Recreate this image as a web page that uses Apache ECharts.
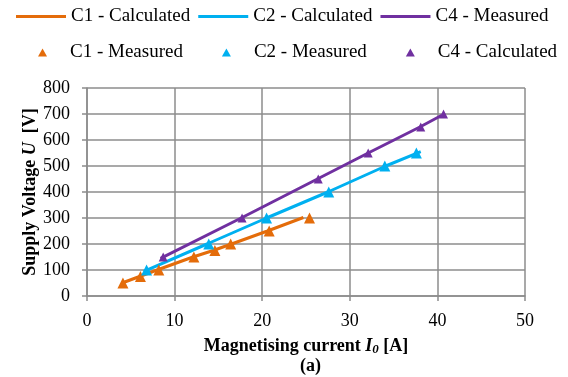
<!DOCTYPE html>
<html>
<head>
<meta charset="utf-8">
<script src="https://cdn.jsdelivr.net/npm/echarts@6/dist/echarts.min.js"></script>
<style>html,body{margin:0;padding:0;background:#fff}#c{width:568px;height:377px}</style>
</head>
<body>
<div id="c"></div>
<script>
// Data: [current I0 (A), voltage U (V)]
const c1Calculated = [[4.0,50],[6.0,75],[8.0,100],[12.1,150],[14.4,175],[16.5,200],[20.6,250],[24.7,302]];
const c2Calculated = [[6.5,95],[13.7,200],[20.5,300],[27.5,400],[34.1,500],[38.1,555]];
const c4Measured   = [[8.4,145],[17.6,300],[26.3,450],[32.1,550],[38.0,650],[40.5,695]];
const c1Measured   = [[4.1,50],[6.1,75],[8.2,100],[12.2,150],[14.6,175],[16.4,200],[20.8,250],[25.4,300]];
const c2Measured   = [[6.8,100],[13.9,200],[20.5,300],[27.6,400],[34.0,500],[37.6,550]];
const c4Calculated = [[8.7,150],[17.7,300],[26.4,450],[32.1,550],[38.1,650],[40.7,700]];
const xTicks = [0,10,20,30,40,50];
const yTicks = [0,100,200,300,400,500,600,700,800];

const FONT = "'Liberation Serif','Times New Roman',serif";
const ORANGE = '#E46C0A', CYAN = '#00B0F0', PURPLE = '#7030A0';
const GRID_C = '#8c8c8c';

const chart = echarts.init(document.getElementById('c'));
const lineSeries = (name, data, color) => ({
  name, type: 'line', data, symbol: 'none', smooth: false,
  lineStyle: { color, width: 3 }, itemStyle: { color }, z: 2
});
const scatterSeries = (name, data, color, size) => ({
  name, type: 'scatter', data, symbol: 'triangle', symbolSize: size,
  itemStyle: { color, opacity: 1 }, z: 3
});

chart.setOption({
  backgroundColor: '#fff',
  animation: false,
  textStyle: { fontFamily: FONT, color: '#000' },
  title: {
    text: '(a)', left: 300, top: 357, padding: 0,
    textStyle: { fontFamily: FONT, fontSize: 18, fontWeight: 'bold', color: '#000' }
  },
  legend: [
    {
      data: ['C1 - Calculated', 'C2 - Calculated', 'C4 - Measured'].map(n => ({ name: n, icon: 'rect' })),
      left: 16, top: 7, padding: 0, itemWidth: 50, itemHeight: 3, itemGap: 8,
      textStyle: { fontFamily: FONT, fontSize: 19, color: '#000' }
    },
    {
      data: ['C1 - Measured', 'C2 - Measured', 'C4 - Calculated'].map(n => ({ name: n, icon: 'triangle' })),
      left: 38, top: 43, padding: 0, itemWidth: 9, itemHeight: 8, itemGap: 39,
      textStyle: { fontFamily: FONT, fontSize: 19, color: '#000', padding: [0, 0, 0, 18] }
    }
  ],
  grid: { left: 87, right: 43, top: 88, bottom: 81 },
  xAxis: {
    type: 'value', min: xTicks[0], max: xTicks[xTicks.length - 1], interval: 10,
    name: '{b|Magnetising current }{i|I}{s|0}{b| [A]}',
    nameLocation: 'middle', nameGap: 41, nameMoveOverlap: false,
    nameTextStyle: {
      rich: {
        b: { fontFamily: FONT, fontSize: 18, fontWeight: 'bold', color: '#000' },
        i: { fontFamily: FONT, fontSize: 18, fontWeight: 'bold', fontStyle: 'italic', color: '#000' },
        s: { fontFamily: FONT, fontSize: 13, fontWeight: 'bold', fontStyle: 'italic', color: '#000', verticalAlign: 'bottom', padding: [6, 0, 0, 0] }
      }
    },
    axisLine: { lineStyle: { color: GRID_C, width: 1.5 } },
    axisTick: { show: true, length: 5, lineStyle: { color: GRID_C, width: 1.5 } },
    axisLabel: { fontFamily: FONT, fontSize: 18, color: '#000', margin: 16 },
    splitLine: { show: true, lineStyle: { color: GRID_C, width: 1.5 } }
  },
  yAxis: {
    type: 'value', min: yTicks[0], max: yTicks[yTicks.length - 1], interval: 100,
    name: '{b|Supply Voltage }{i|U}{b|  [V]}',
    nameLocation: 'middle', nameGap: 48, nameRotate: 90, nameMoveOverlap: false,
    nameTextStyle: {
      rich: {
        b: { fontFamily: FONT, fontSize: 18, fontWeight: 'bold', color: '#000' },
        i: { fontFamily: FONT, fontSize: 18, fontWeight: 'bold', fontStyle: 'italic', color: '#000' }
      }
    },
    axisLine: { show: true, lineStyle: { color: GRID_C, width: 1.5 } },
    axisTick: { show: true, length: 5, lineStyle: { color: GRID_C, width: 1.5 } },
    axisLabel: { fontFamily: FONT, fontSize: 18, color: '#000', margin: 17 },
    splitLine: { show: true, lineStyle: { color: GRID_C, width: 1.5 } }
  },
  series: [
    lineSeries('C1 - Calculated', c1Calculated, ORANGE),
    lineSeries('C2 - Calculated', c2Calculated, CYAN),
    lineSeries('C4 - Measured', c4Measured, PURPLE),
    scatterSeries('C1 - Measured', c1Measured, ORANGE, 11),
    scatterSeries('C2 - Measured', c2Measured, CYAN, 11),
    scatterSeries('C4 - Calculated', c4Calculated, PURPLE, 9)
  ]
});
</script>
</body>
</html>
